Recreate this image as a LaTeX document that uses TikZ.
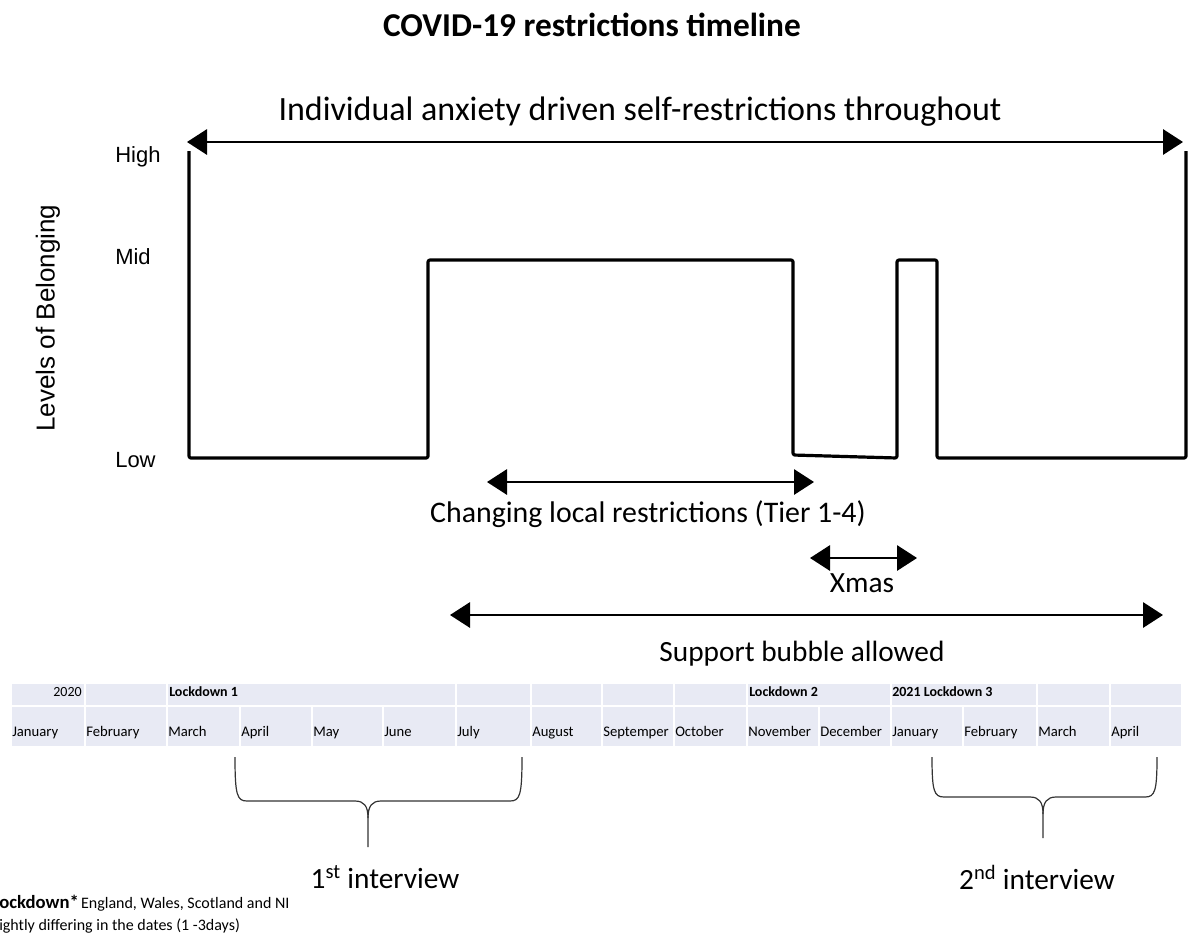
\documentclass[tikz,border=0pt]{standalone}
\usepackage{fontspec}
\setmainfont{Carlito}
\newfontfamily\arialf{Liberation Sans}
\usetikzlibrary{arrows.meta}
\definecolor{cellc}{HTML}{E8EAF4}
\tikzset{
  big/.style={font=\fontsize{22}{26}\selectfont, inner sep=0pt},
  dbl/.style={line width=1.5pt, {Triangle[length=15pt,width=19pt]}-{Triangle[length=15pt,width=19pt]}},
  stepline/.style={line width=2.4pt, line join=round, rounded corners=1.5pt},
  lvl/.style={font=\arialf\fontsize{16.5}{18}\selectfont, anchor=west, inner sep=0pt},
  mon/.style={font=\fontsize{11}{12}\selectfont, anchor=base west, inner sep=0pt},
  hdr/.style={font=\bfseries\fontsize{10.5}{12}\selectfont, anchor=base west, inner sep=0pt},
  bracel/.style={line width=0.9pt, draw=black!80},
}
\begin{document}
\begin{tikzpicture}[x=0.75pt, y=-0.75pt]
\useasboundingbox (0,0) rectangle (1194,936);
% title
\node[font=\bfseries\fontsize{25}{29}\selectfont, inner sep=0pt] (title) at (592,25) {COVID-19 restrictions timeline};
% top arrow
\node[font=\fontsize{25.5}{29}\selectfont, inner sep=0pt] (indiv) at (640,112) {Individual anxiety driven self-restrictions throughout};
\coordinate (tL) at (187,142);
\coordinate (tR) at (1183,142);
\draw[dbl] (tL) -- (tR);
% axis labels
\node[lvl] (high) at (115,157) {High};
\node[lvl] (mid) at (115,257) {Mid};
\node[lvl] (low) at (115,460) {Low};
\node[font=\arialf\fontsize{19.5}{22}\selectfont, rotate=90, inner sep=0pt] (ylab) at (48,318) {Levels of Belonging};
% step line
\draw[stepline] (189,151) -- (189,458) -- (428,458) -- (428,260) -- (793,260) -- (793,455)
  -- (897,458) -- (897,260) -- (937,260) -- (937,458) -- (1186,458) -- (1186,151);
% changing local restrictions
\coordinate (cL) at (487,482);
\coordinate (cR) at (814,482);
\draw[dbl] (cL) -- (cR);
\node[big, font=\fontsize{22.4}{26}\selectfont] (chg) at (648,514) {Changing local restrictions (Tier 1-4)};
% xmas
\coordinate (xL) at (810,558);
\coordinate (xR) at (917,558);
\draw[dbl] (xL) -- (xR);
\node[big] (xmas) at (862,583) {Xmas};
% support bubble
\coordinate (sL) at (450,615);
\coordinate (sR) at (1163,615);
\draw[dbl] (sL) -- (sR);
\node[big] (supp) at (802,654) {Support bubble allowed};
% table row 1
\foreach \a/\b in {11/85, 85/167, 167/456, 456/531, 531/602, 602/674, 674/747, 747/891, 891/1037, 1037/1110, 1110/1182}
  \fill[cellc] (\a+1,684) rectangle (\b-1,705);
\node[font=\fontsize{10.5}{12}\selectfont, anchor=base east, inner sep=0pt] (y2020) at (82,696) {2020};
\node[hdr] (ld1) at (169,696) {Lockdown 1};
\node[hdr] (ld2) at (749,696) {Lockdown 2};
\node[hdr] (ld3) at (892,696) {2021 Lockdown 3};
% table row 2
\foreach \a/\b/\m [count=\i] in {11/85/January, 85/167/February, 167/240/March, 240/312/April, 312/383/May, 383/456/June, 456/531/July, 531/602/August, 602/674/Septemper, 674/747/October, 747/819/November, 819/891/December, 891/963/January, 963/1037/February, 1037/1110/March, 1110/1182/April}
{
  \fill[cellc] (\a+1,707) rectangle (\b-1,746);
  \node[mon] (m\i) at (\a+1,736) {\m};
}
% braces
\draw[bracel] (235,757) .. controls (235,795) and (237,801) .. (247,801) -- (355,801)
  .. controls (364,801) and (368,806) .. (368,818) -- (368,847);
\draw[bracel] (522,757) .. controls (522,795) and (520,801) .. (510,801) -- (381,801)
  .. controls (372,801) and (368,806) .. (368,818);
\draw[bracel] (932,757) .. controls (932,791) and (934,797) .. (944,797) -- (1030,797)
  .. controls (1039,797) and (1043,802) .. (1043,814) -- (1043,838);
\draw[bracel] (1157,757) .. controls (1157,791) and (1155,797) .. (1145,797) -- (1056,797)
  .. controls (1047,797) and (1043,802) .. (1043,814);
\node[big] (int1) at (385,877) {1\textsuperscript{st} interview};
\node[big] (int2) at (1037,877) {2\textsuperscript{nd} interview};
% footnote
\node[anchor=base west, inner sep=0pt] (fn1) at (-1,908) {{\bfseries\fontsize{14}{16}\selectfont ockdown*}\,{\fontsize{12}{14}\selectfont England, Wales, Scotland and NI}};
\node[anchor=base west, inner sep=0pt, font=\fontsize{12}{14}\selectfont] (fn2) at (-1,930) {ightly differing in the dates (1 -3days)};
\end{tikzpicture}
\end{document}
